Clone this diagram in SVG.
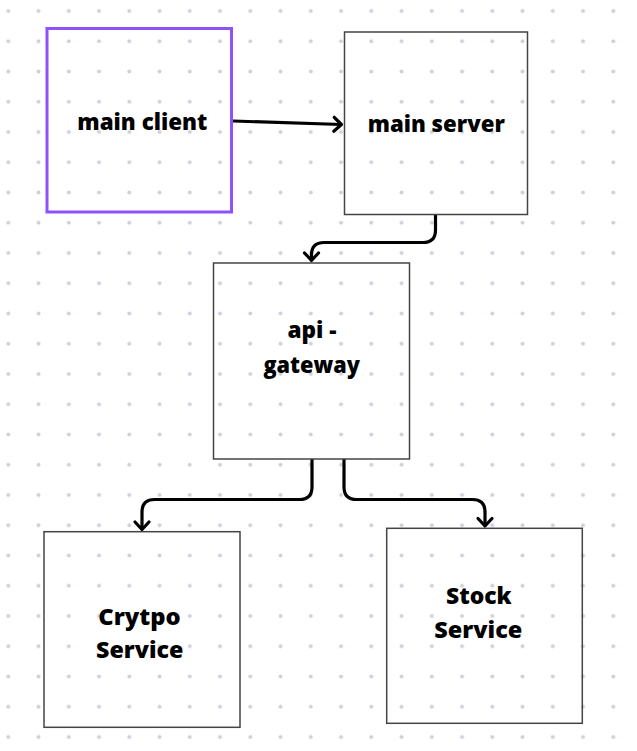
<svg xmlns="http://www.w3.org/2000/svg" width="637" height="751" viewBox="0 0 637 751">
<defs>
<pattern id="dots" patternUnits="userSpaceOnUse" x="-6.825" y="-4.125" width="30.25" height="30.25">
<circle cx="15.125" cy="15.125" r="2" fill="#cdd1dc"/>
</pattern>
<marker id="arr" markerUnits="userSpaceOnUse" markerWidth="24" markerHeight="24" viewBox="-12 -12 24 24" refX="0" refY="0" orient="auto">
<path d="M-7.5,-7 L0,0 L-7.5,7" fill="none" stroke="#000" stroke-width="3.2" stroke-linecap="round" stroke-linejoin="round"/>
</marker>
<style>
.box{fill:none;stroke:#444;stroke-width:1.5}
.sel{fill:none;stroke:#8c52ff;stroke-width:3}
.lbl{font-family:"Open Sans","DejaVu Sans",sans-serif;font-weight:800;font-size:23px;fill:#000;text-anchor:middle}
.con{fill:none;stroke:#000;stroke-width:3.2;marker-end:url(#arr)}
</style>
</defs>
<rect width="637" height="751" fill="#fff"/>
<rect width="637" height="751" fill="url(#dots)"/>
<g id="connectors">
<path class="con" d="M233,121 L341.5,124.5"/>
<path class="con" d="M435.5,215 L435.5,230 Q435.5,242.5 423,242.5 L324,242.5 Q311.5,242.5 311.5,255 L311.5,260.5"/>
<path class="con" d="M312,459 L312,487 Q312,499.5 299.5,499.5 L154.5,499.5 Q142,499.5 142,512 L142,529.5"/>
<path class="con" d="M344,459 L344,487 Q344,499.5 356.5,499.5 L472.5,499.5 Q485,499.5 485,512 L485,526"/>
</g>
<g id="main-client">
<rect class="sel" x="47" y="28.5" width="184.5" height="183.5"/>
<text class="lbl" x="142.3" y="130" textLength="130" lengthAdjust="spacingAndGlyphs">main client</text>
</g>
<g id="main-server">
<rect class="box" x="344.5" y="32" width="183" height="182.5"/>
<text class="lbl" x="436.3" y="132" textLength="137" lengthAdjust="spacingAndGlyphs">main server</text>
</g>
<g id="api-gateway">
<rect class="box" x="213.5" y="263" width="196" height="196"/>
<text class="lbl" x="312" y="337.5" textLength="49" lengthAdjust="spacingAndGlyphs">api -</text>
<text class="lbl" x="311.7" y="372.5" textLength="96.5" lengthAdjust="spacingAndGlyphs">gateway</text>
</g>
<g id="crypto-service">
<rect class="box" x="44" y="531.7" width="196" height="195.6"/>
<text class="lbl" x="139.5" y="624.5" textLength="82.4" lengthAdjust="spacingAndGlyphs">Crytpo</text>
<text class="lbl" x="139.7" y="657.5" textLength="87.3" lengthAdjust="spacingAndGlyphs">Service</text>
</g>
<g id="stock-service">
<rect class="box" x="386.7" y="528.3" width="195.6" height="195"/>
<text class="lbl" x="478.8" y="603.5" textLength="65.7" lengthAdjust="spacingAndGlyphs">Stock</text>
<text class="lbl" x="478.3" y="637.5" textLength="88" lengthAdjust="spacingAndGlyphs">Service</text>
</g>
</svg>
